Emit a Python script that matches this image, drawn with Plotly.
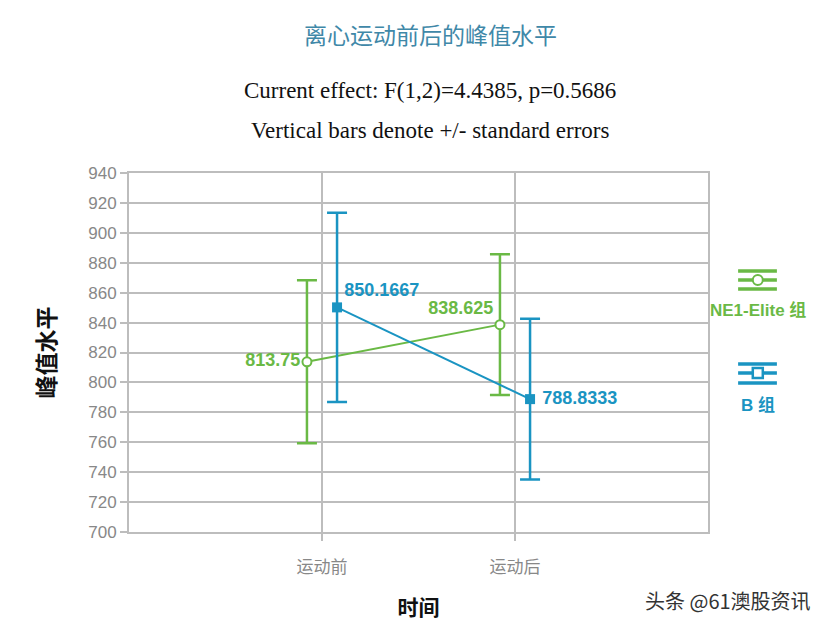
import plotly.graph_objects as go

# values
categories = ["运动前", "运动后"]
groups = ["NE1-Elite 组", "B 组"]
ne1_means = [813.75, 838.625]
ne1_se = [54.5, 47.0]
b_means = [850.1667, 788.8333]
b_se = [63.2, 53.8]
ne1_labels = ["813.75", "838.625"]
b_labels = ["850.1667", "788.8333"]
y_ticks = list(range(700, 941, 20))

GREEN = "#6ab945"
BLUE = "#1a94c2"
GRID = "#bdbdbd"
CJK = "Noto Sans CJK SC"
SANS = "Liberation Sans, Arial, " + CJK
SERIF = "Liberation Serif, Times New Roman"

idx = list(range(len(categories)))
off = 0.078

fig = go.Figure()
fig.add_trace(go.Scatter(
    x=[i - off for i in idx], y=ne1_means, name=groups[0],
    mode="lines+markers+text", text=ne1_labels,
    textposition=["middle left", "top left"],
    textfont=dict(family=SANS, size=18, color=GREEN, weight="bold"),
    line=dict(color=GREEN, width=2),
    marker=dict(symbol="circle", size=9, color="white", line=dict(color=GREEN, width=2)),
    error_y=dict(type="data", array=ne1_se, color=GREEN, thickness=2.5, width=10),
    showlegend=False,
))
fig.add_trace(go.Scatter(
    x=[i + off for i in idx], y=b_means, name=groups[1],
    mode="lines+markers+text", text=[b_labels[0], " " + b_labels[1]],
    textposition=["top right", "middle right"],
    textfont=dict(family=SANS, size=18, color=BLUE, weight="bold"),
    line=dict(color=BLUE, width=2),
    marker=dict(symbol="square", size=10, color=BLUE),
    error_y=dict(type="data", array=b_se, color=BLUE, thickness=2.5, width=10),
    showlegend=False,
))

# titles
title_font = dict(family=CJK, size=23, color="#3f88a8")
sub_font = dict(family=SERIF, size=23, color="#111")
for txt, yy, fnt in [("离心运动前后的峰值水平", 1.387, title_font),
                     ("Current effect: F(1,2)=4.4385, p=0.5686", 1.231, sub_font),
                     ("Vertical bars denote +/- standard errors", 1.117, sub_font)]:
    fig.add_annotation(text=txt, x=0.52, y=yy, xref="paper", yref="paper",
                       xanchor="center", yanchor="middle", showarrow=False, font=fnt)

# hand-made legend on the right
for color, ys, label, ly in [(GREEN, (0.727, 0.702, 0.677), groups[0], 0.616),
                             (BLUE, (0.468, 0.443, 0.415), groups[1], 0.351)]:
    for yy in ys:
        fig.add_shape(type="line", xref="paper", yref="paper", x0=1.052, x1=1.119, y0=yy, y1=yy,
                      line=dict(color=color, width=3.5))
    fig.add_annotation(text="<b>%s</b>" % label, x=1.086, y=ly, xref="paper", yref="paper",
                       xanchor="center", yanchor="middle", showarrow=False,
                       font=dict(family=SANS, size=17, color=color))
fig.add_shape(type="circle", xref="paper", yref="paper", xsizemode="pixel", ysizemode="pixel",
              xanchor=1.086, yanchor=0.702, x0=-5, x1=5, y0=-5, y1=5,
              fillcolor="white", line=dict(color=GREEN, width=2))
fig.add_shape(type="rect", xref="paper", yref="paper", xsizemode="pixel", ysizemode="pixel",
              xanchor=1.086, yanchor=0.443, x0=-5, x1=5, y0=-5, y1=5,
              fillcolor="white", line=dict(color=BLUE, width=2.5))

# watermark
fig.add_annotation(text="头条 @61澳股资讯", x=1.181, y=-0.192, xref="paper", yref="paper",
                   xanchor="right", yanchor="middle", showarrow=False,
                   font=dict(family=CJK, size=20, color="#333"))

# page body adds 8px, so the figure is 822x621
fig.update_layout(
    width=822, height=621,
    margin=dict(l=121, r=122, t=165, b=97),
    plot_bgcolor="white", paper_bgcolor="white",
    font=dict(family=SANS),
)
fig.update_xaxes(
    range=[-1, 2], tickvals=idx, ticktext=categories,
    showgrid=True, gridcolor=GRID, gridwidth=2,
    showline=True, linecolor=GRID, linewidth=2, mirror=True,
    ticks="outside", ticklen=7, tickcolor=GRID, tickwidth=2,
    ticklabelstandoff=12,
    tickfont=dict(family=CJK, size=17, color="#888"),
    title=dict(text="<b>时间</b>", font=dict(family=CJK, size=21, color="#111"), standoff=23),
    zeroline=False,
)
fig.update_yaxes(
    range=[700, 940], tickvals=y_ticks,
    showgrid=True, gridcolor=GRID, gridwidth=2,
    showline=True, linecolor=GRID, linewidth=2, mirror=True,
    ticks="outside", ticklen=7, tickcolor=GRID, tickwidth=2,
    tickfont=dict(family=SANS, size=17, color="#888"),
    title=dict(text="<b>峰值水平</b>", font=dict(family=CJK, size=23, color="#111"), standoff=26),
    zeroline=False,
)

fig.write_html("out.html")
